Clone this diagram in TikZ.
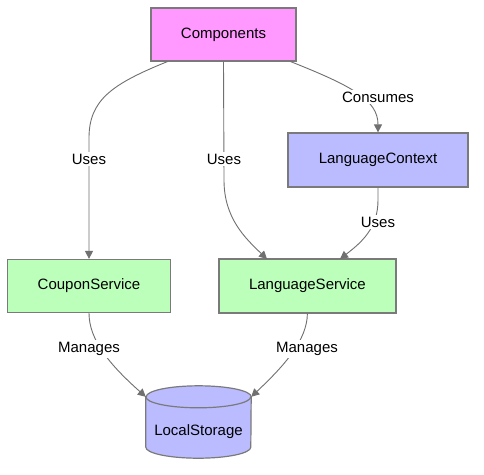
\documentclass[tikz,border=0pt]{standalone}
\usepackage{fontspec}
\setmainfont{Liberation Sans}
\usetikzlibrary{arrows.meta,calc}
\definecolor{pinkfill}{HTML}{FF99FF}
\definecolor{bluefill}{HTML}{BBBBFF}
\definecolor{greenfill}{HTML}{BBFFBB}
\definecolor{edgegray}{HTML}{707070}
\definecolor{bordergray}{HTML}{7A7A7A}
\tikzset{
  box/.style={draw=bordergray, line width=1.2pt, inner sep=0pt, font=\fontsize{15}{17}\selectfont},
  edge/.style={draw=edgegray, line width=0.9pt, -{Triangle[length=8pt,width=8pt]}},
  lbl/.style={fill=white, inner sep=2pt, font=\fontsize{15}{17}\selectfont},
}
\begin{document}
\begin{tikzpicture}[x=1pt,y=-1pt]
\useasboundingbox[fill=white] (0,0) rectangle (484,474);
% nodes
\node[box, fill=pinkfill, minimum width=145pt, minimum height=53pt] (C) at (223.5,34.5) {Components};
\node[box, fill=bluefill, minimum width=180pt, minimum height=54pt] (LC) at (378,160) {LanguageContext};
\node[box, fill=greenfill, minimum width=163pt, minimum height=53pt] (CS) at (89,286) {CouponService};
\node[box, fill=greenfill, minimum width=177pt, minimum height=54pt] (LSv) at (307.4,286) {LanguageService};
\node[inner sep=0pt, minimum width=105pt, minimum height=72pt] (ST) at (198.5,422) {};
% cylinder
\draw[draw=bordergray, line width=1.2pt, fill=bluefill]
  ($(ST.north west)+(0,11)$) -- ($(ST.south west)+(0,-11)$)
  arc[start angle=180, end angle=0, x radius=52.5, y radius=11]
  -- ($(ST.north east)+(0,11)$)
  arc[start angle=360, end angle=180, x radius=52.5, y radius=11] -- cycle;
\draw[draw=bordergray, line width=1.2pt]
  ($(ST.north west)+(0,11)$) arc[start angle=180, end angle=0, x radius=52.5, y radius=11];
\node[font=\fontsize{15}{17}\selectfont] (STt) at (198.5,432) {LocalStorage};
% edges
\draw[edge] ($(C.south west)+(17,0)$) .. controls (112,84) and (89,100) .. (89,138) -- (CS.north);
\draw[edge] (C.south) -- (224,180) .. controls (224,218) and (245,238) .. (267,259);
\draw[edge] ($(C.south east)+(-6,0)$) .. controls (352,86) and (378,100) .. (LC.north);
\draw[edge] (LC.south) -- (378,200) .. controls (378,228) and (362,242) .. (340,259);
\draw[edge] (CS.south) .. controls (89,340) and (110,365) .. ($(ST.north west)+(0,11)$);
\draw[edge] (LSv.south) .. controls (307,340) and (285,365) .. ($(ST.north east)+(0,11)$);
% labels
\node[lbl] (l1) at (89,159) {Uses};
\node[lbl] (l2) at (224,159) {Uses};
\node[lbl] (l3) at (378,97) {Consumes};
\node[lbl] (l4) at (378,222) {Uses};
\node[lbl] (l5) at (89,349) {Manages};
\node[lbl] (l6) at (307,349) {Manages};
\end{tikzpicture}
\end{document}
